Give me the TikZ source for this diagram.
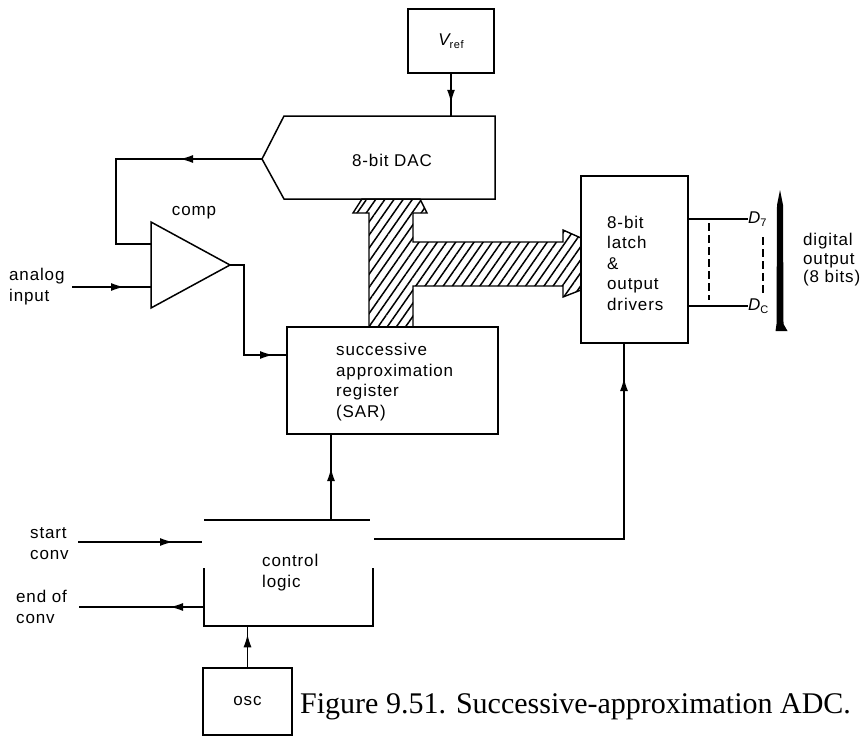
\documentclass[tikz,border=0pt]{standalone}
\usepackage{fontspec}
\newfontfamily\labfont{Liberation Sans}[LetterSpace=5]
\newfontfamily\captfont{Liberation Serif}
\usetikzlibrary{arrows.meta,decorations.markings,patterns.meta}
\tikzset{
  lab/.style={font=\labfont\fontsize{17}{21}\selectfont, inner sep=0pt, align=left},
  box/.style={draw, line width=1.5pt, inner sep=0pt},
  wire/.style={line width=1.3pt},
  midarrow/.style={postaction={decorate}, decoration={markings, mark=at position #1 with {\arrow{Latex[length=13pt,width=8pt]}}}},
  hatch/.style={draw, line width=1.4pt, pattern={Lines[angle=55,distance=7.5pt,line width=1.5pt]}},
}
\begin{document}
\begin{tikzpicture}[x=1pt,y=-1pt, line join=miter]
\useasboundingbox (0,0) rectangle (865,736);
% Vref
\node[box, lab, minimum width=86pt, minimum height=64pt] (vref) at (451,41) {\itshape V\raisebox{-3pt}{\upshape\fontsize{11}{11}\selectfont ref}};
% DAC
\draw[box] (262,159) -- (284,116) -- (495,116) -- (495,199) -- (284,199) -- cycle;
\node[lab] (dac) at (392,160) {8-bit DAC};
\coordinate (dacW) at (262,159);
\coordinate (dacN) at (451,116);
\draw[wire, midarrow=29pt] (vref.south) -- (dacN);
% comparator
\draw[box] (151,222) -- (230,265) -- (151,308) -- cycle;
\coordinate (cmpM) at (151,244);
\coordinate (cmpP) at (151,287);
\coordinate (cmpO) at (230,265);
\node[lab] (complab) at (194,213) {comp};
\draw[wire, midarrow=82pt] (dacW) -- (116,159) |- (cmpM);
\coordinate (ain) at (72,287);
\draw[wire, midarrow=52pt] (ain) -- (cmpP);
\node[lab, anchor=west] (ainlab) at (9,287) {analog\\input};
% SAR
\node[box, minimum width=211pt, minimum height=107pt] (sar) at (392.5,380.5) {};
\node[lab, anchor=west, font=\labfont\fontsize{17}{20.5}\selectfont] (sartxt) at (336,382) {successive\\approximation\\register\\(SAR)};
\coordinate (sarIn) at (287,355);
\draw[wire, midarrow=133pt] (cmpO) -- (244,265) |- (sarIn);
% latch
\node[box, minimum width=107pt, minimum height=167pt] (latch) at (634.5,259.5) {};
\node[lab, anchor=west, font=\labfont\fontsize{17}{20.5}\selectfont] (latchtxt) at (607,263) {8-bit\\latch\\\&\\output\\drivers};
% bus
\draw[hatch] (369,327) -- (369,213) -- (353,213) -- (362,199) -- (420,199) -- (427,213) -- (413,213) -- (413,242) -- (563,242) -- (563,230) -- (581,238) -- (581,290) -- (563,297) -- (563,286) -- (413,286) -- (413,327) -- cycle;
% outputs
\node[lab, anchor=west] (d7) at (748,219) {\itshape D\raisebox{-3pt}{\upshape\fontsize{11}{11}\selectfont 7}};
\node[lab, anchor=west] (d0) at (748,306) {\itshape D\raisebox{-3pt}{\upshape\fontsize{11}{11}\selectfont C}};
\draw[wire] (latch.east |- d7.west) -- (d7.west);
\draw[wire] (latch.east |- d0.west) -- (d0.west);
\draw[wire, dash pattern=on 8pt off 4pt] (709,223) -- (709,300);
\draw[wire, dash pattern=on 8pt off 4pt] (763,237) -- (763,293);
\fill (775.5,331) -- (787.5,331) -- (783.5,324) -- (783,205) -- (780,190) -- (777,205) -- (776.5,324) -- cycle;
\node[lab, anchor=west, font=\labfont\fontsize{17}{18.5}\selectfont] (dig) at (803,260) {digital\\output\\(8 bits)};
% control logic
\node[lab, anchor=west] (ctl) at (262,573) {control\\logic};
\draw[box] (204,520) -- (370,520);
\draw[box] (204,568) -- (204,626) -- (373,626) -- (373,568);
\coordinate (ctop) at (331,520);
\draw[wire, midarrow=52pt] (ctop) -- (ctop |- sar.south);
\coordinate (sc) at (78,542);
\coordinate (scE) at (202,542);
\draw[wire, midarrow=95pt] (sc) -- (scE);
\node[lab, anchor=west] (sclab) at (30,544) {start\\conv};
\coordinate (ecS) at (204,607);
\coordinate (ecE) at (79,607);
\draw[wire, midarrow=34pt] (ecS) -- (ecE);
\node[lab, anchor=west] (eclab) at (16,607) {end of\\conv};
\coordinate (cR) at (374,539);
\coordinate (latchIn) at (624,343);
\draw[wire, midarrow=411pt] (cR) -| (latchIn);
% osc
\node[box, lab, minimum width=89pt, minimum height=67pt] (osc) at (247.5,701.5) {osc};
\coordinate (cBot) at (247.5,626);
\draw[wire, midarrow=33pt] (osc.north) -- (cBot);
% caption
\node[anchor=base west, inner sep=0pt, font=\captfont\fontsize{30}{34}\selectfont] (cap) at (300,713) {Figure 9.51. Successive-approximation ADC.};
\end{tikzpicture}
\end{document}
